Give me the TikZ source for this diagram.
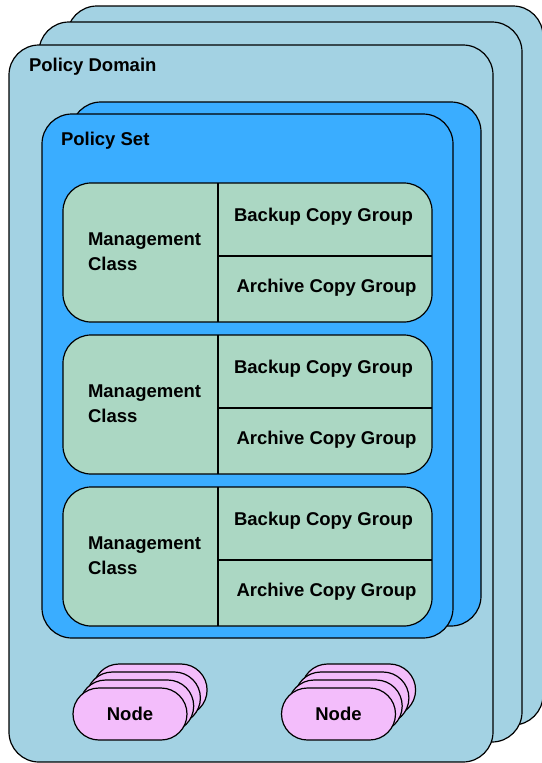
\documentclass[tikz,border=0pt]{standalone}
\usepackage{fontspec}
\setmainfont{Liberation Sans}
\usetikzlibrary{calc}
\definecolor{domblue}{HTML}{A3D2E3}
\definecolor{setblue}{HTML}{3AADFF}
\definecolor{mcgreen}{HTML}{ABD7C3}
\definecolor{nodepink}{HTML}{F3BDFB}
\begin{document}
\begin{tikzpicture}[x=1pt,y=-1pt,
  box/.style={draw=black,line width=1.2pt,outer sep=0pt,inner sep=0pt,rectangle},
  dombox/.style={box,fill=domblue,rounded corners=30pt},
  setbox/.style={box,fill=setblue,rounded corners=30pt},
  mcbox/.style={box,fill=mcgreen,rounded corners=28pt,minimum width=369pt,minimum height=139pt},
  pinkbox/.style={box,fill=nodepink,rounded corners=26pt,minimum width=114pt,minimum height=52pt},
  lbl/.style={font=\fontsize{18.5}{25}\selectfont\bfseries,inner sep=0pt,outer sep=0pt,align=left},
  divider/.style={draw=black,line width=1.1pt}]
\useasboundingbox (0,0) rectangle (541,763);
% policy domains
\node[dombox,minimum width=476pt,minimum height=719pt] (dom3) at (305,365.5) {};
\node[dombox,minimum width=483pt,minimum height=720pt] (dom2) at (280.5,382) {};
\node[dombox,minimum width=484pt,minimum height=717pt] (dom1) at (251,403.5) {};
\node[lbl,anchor=west] (domlbl) at (29,66.5) {Policy Domain};
% policy sets
\node[setbox,minimum width=410pt,minimum height=524pt] (set2) at (276,364) {};
\node[setbox,minimum width=411pt,minimum height=524pt] (set1) at (247.5,376) {};
\node[lbl,anchor=west] (setlbl) at (61,140.5) {Policy Set};
% management classes
\foreach \i/\dy in {1/0,2/152,3/304}{
  \node[mcbox] (mc\i) at (247.5,252.5+\dy) {};
  \draw[divider] ($(mc\i.north west)+(155,0)$) coordinate (v\i a) -- ($(mc\i.south west)+(155,0)$) coordinate (v\i b);
  \draw[divider] ($(mc\i.north west)+(155,73)$) coordinate (h\i a) -- ($(mc\i.north east)+(0,73)$) coordinate (h\i b);
  \node[lbl,anchor=west] (mcl\i) at (88,251.5+\dy) {Management\\Class};
  \node[lbl] (bcg\i) at (323.5,216.5+\dy) {Backup Copy Group};
  \node[lbl] (acg\i) at (326.5,287.5+\dy) {Archive Copy Group};
}
% node stacks
\foreach \k in {3,2,1}{
  \node[pinkbox] (nl\k) at ({130+6.7*\k},{714-8*\k}) {};
  \node[pinkbox] (nr\k) at ({338.5+6.7*\k},{714-8*\k}) {};
}
\node[pinkbox,lbl] (nl0) at (130,714) {Node};
\node[pinkbox,lbl] (nr0) at (338.5,714) {Node};
\end{tikzpicture}
\end{document}
